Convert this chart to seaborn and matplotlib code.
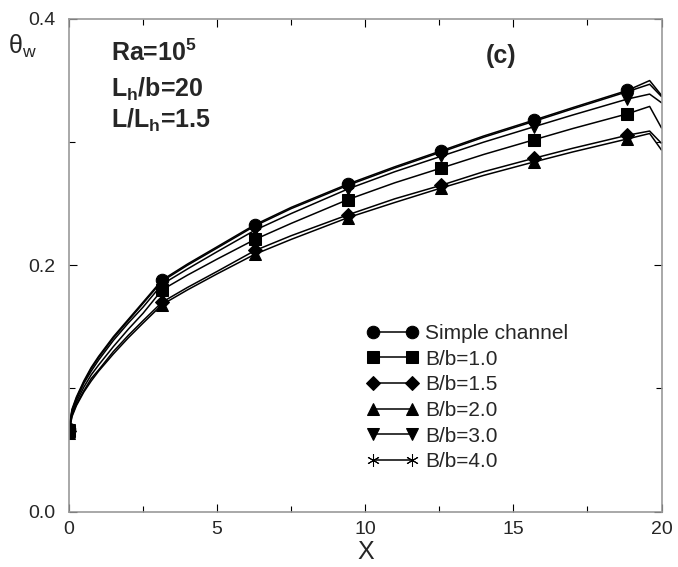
import numpy as np
import pandas as pd
import matplotlib
matplotlib.use("Agg")
import matplotlib.pyplot as plt
from matplotlib.ticker import MultipleLocator
import seaborn as sns

# data
X = [0, 0.1, 0.25, 0.5, 0.75, 1, 1.5, 2, 2.5, 3.14, 4, 5, 6.28, 7.5, 9.42,
     11, 12.57, 14, 15.71, 17, 18.85, 19.6, 20]
MARK_X = [0, 3.14, 6.28, 9.42, 12.57, 15.71, 18.85]

simple = [0.067, 0.083, 0.093, 0.106, 0.117, 0.126, 0.142, 0.156, 0.170, 0.188, 0.201, 0.215,
          0.233, 0.247, 0.266, 0.280, 0.293, 0.305, 0.318, 0.328, 0.342, 0.350, 0.338]
bb10 = [0.065, 0.079, 0.089, 0.101, 0.111, 0.119, 0.134, 0.148, 0.161, 0.180, 0.192, 0.205,
        0.221, 0.234, 0.2534, 0.267, 0.279, 0.290, 0.302, 0.311, 0.323, 0.329, 0.3115]
bb15 = [0.065, 0.078, 0.087, 0.098, 0.108, 0.115, 0.130, 0.143, 0.155, 0.170, 0.182, 0.195,
        0.212, 0.224, 0.241, 0.254, 0.265, 0.276, 0.287, 0.295, 0.3056, 0.309, 0.299]
bb20 = [0.064, 0.077, 0.086, 0.097, 0.106, 0.114, 0.128, 0.141, 0.153, 0.168, 0.180, 0.193,
        0.209, 0.221, 0.2387, 0.251, 0.2628, 0.273, 0.284, 0.292, 0.3026, 0.307, 0.2936]
bb30 = [0.066, 0.081, 0.091, 0.104, 0.114, 0.123, 0.139, 0.153, 0.166, 0.1845, 0.197, 0.211,
        0.2285, 0.242, 0.262, 0.276, 0.2886, 0.300, 0.3126, 0.322, 0.335, 0.339, 0.332]
bb40 = [0.066, 0.082, 0.092, 0.105, 0.116, 0.125, 0.141, 0.155, 0.169, 0.187, 0.200, 0.214,
        0.232, 0.246, 0.265, 0.279, 0.292, 0.304, 0.317, 0.327, 0.341, 0.347, 0.337]

labels = ["Simple channel", "B/b=1.0", "B/b=1.5", "B/b=2.0", "B/b=3.0", "B/b=4.0"]
series = [simple, bb10, bb15, bb20, bb30, bb40]
markers = ["o", "s", "D", "^", "v", (6, 2, 0)]
msizes = [9, 8, 7, 9, 9, 9]

sns.set_style("ticks")
plt.rcParams['font.family'] = ['Liberation Sans', 'DejaVu Sans']
plt.rcParams['mathtext.default'] = 'regular'

fig = plt.figure(figsize=(6.78, 5.67), dpi=100)
ax = fig.add_axes([69/678, 1 - 511.5/567, 592.5/678, 492.5/567])

mark_idx = [X.index(v) for v in MARK_X]
for lab, vals, mk, ms in zip(labels, series, markers, msizes):
    df = pd.DataFrame({'X': X, 'theta': vals})
    sns.lineplot(data=df, x='X', y='theta', ax=ax, color='black', linewidth=1.1,
                 marker=mk, markersize=ms, markevery=mark_idx, markeredgecolor='black',
                 markerfacecolor='black', label=lab, errorbar=None, sort=False)

ax.set_xlim(0, 20)
ax.set_ylim(0, 0.4)
ax.xaxis.set_major_locator(MultipleLocator(5))
ax.xaxis.set_minor_locator(MultipleLocator(2.5))
ax.yaxis.set_major_locator(MultipleLocator(0.2))
ax.yaxis.set_minor_locator(MultipleLocator(0.1))
ax.yaxis.set_major_formatter(plt.FuncFormatter(lambda v, p: f"{v:.1f}"))
ax.tick_params(which='both', direction='in', top=True, right=True, color='black', width=0.8)
ax.tick_params(which='major', length=6, labelsize=14)
ax.tick_params(which='minor', length=4)
ax.tick_params(axis='y', pad=10)
ax.tick_params(axis='x', pad=7)
for s in ax.spines.values():
    s.set_color('#999999')
    s.set_linewidth(1.2)

ax.set_xlabel("X", fontsize=18, labelpad=1)
ax.set_ylabel("")
ax.text(-0.079, 0.945, r"$\theta_w$", transform=ax.transAxes, fontsize=18, ha='center', va='center')

ax.text(0.071, 0.915, r"Ra=10$^5$", transform=ax.transAxes, fontsize=18, fontweight='bold')
ax.text(0.071, 0.842, r"L$_h$/b=20", transform=ax.transAxes, fontsize=18, fontweight='bold')
ax.text(0.071, 0.779, r"L/L$_h$=1.5", transform=ax.transAxes, fontsize=18, fontweight='bold')
ax.text(0.729, 0.925, "(c)", transform=ax.transAxes, fontsize=18, fontweight='bold',
        ha='center', va='center')

leg = ax.legend(loc='upper left', bbox_to_anchor=((366.5-69)/592.5, (511.5-324)/492.5),
                frameon=False, fontsize=15, numpoints=2, handlelength=2.475,
                handletextpad=0.33, labelspacing=0.32, borderpad=0, borderaxespad=0)

fig.savefig("out.png", dpi=100)
